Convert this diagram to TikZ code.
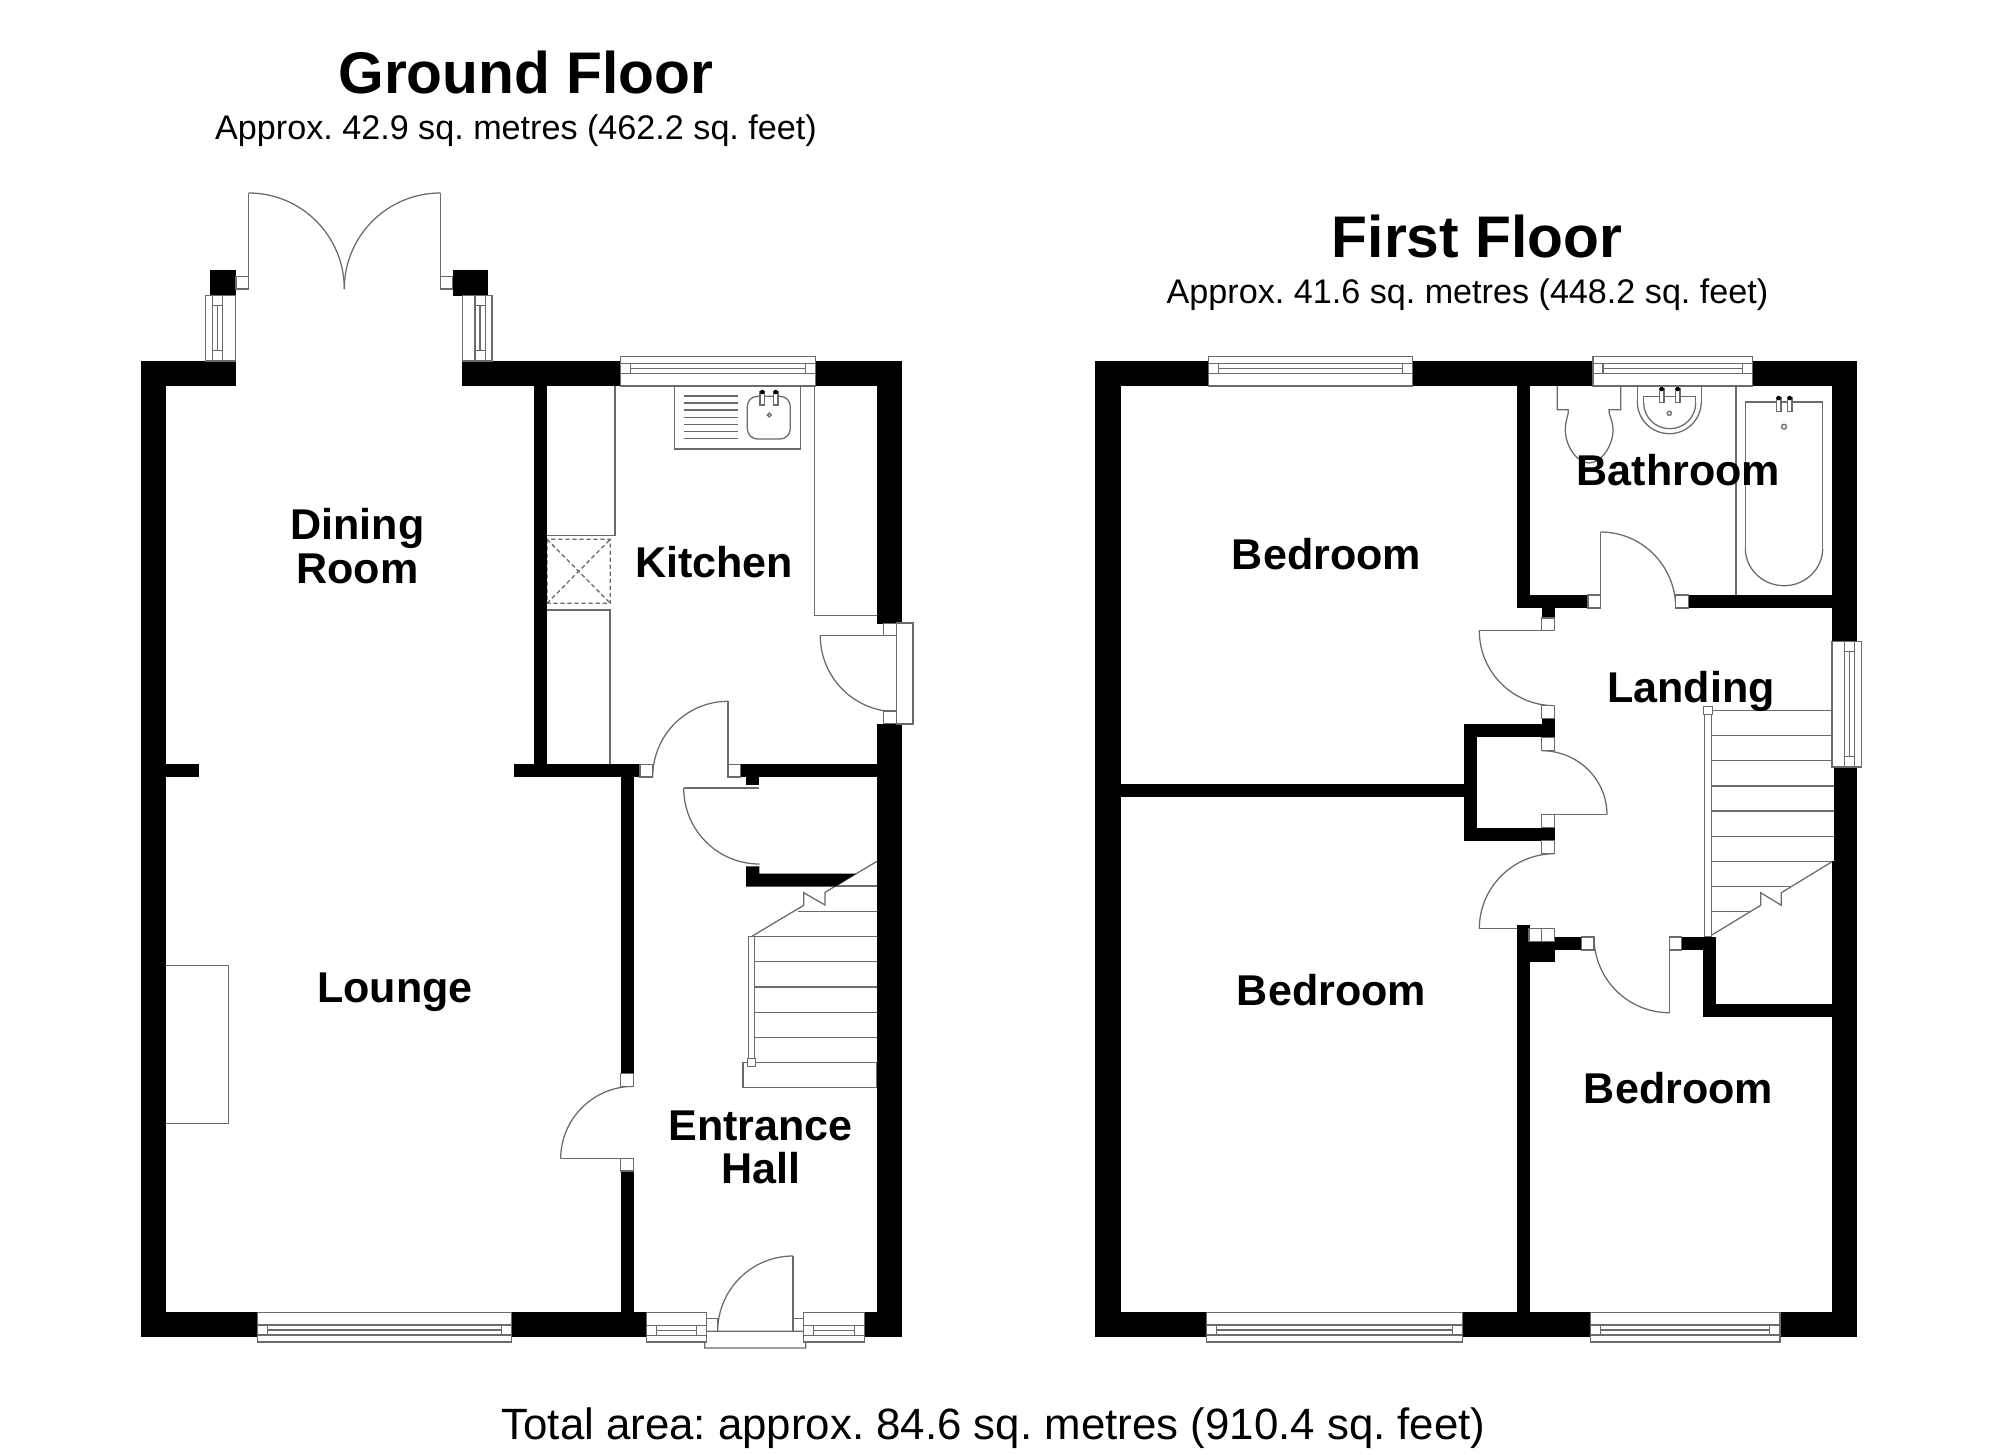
\documentclass[tikz,border=0pt]{standalone}
\usepackage{fontspec}
\setmainfont{Liberation Sans}
\usetikzlibrary{calc}
\tikzset{
  wall/.style={fill=black},
  thinline/.style={draw=planline,line width=0.36pt},
  stub/.style={thinline,fill=white},
  titletext/.style={font=\frenchspacing\bfseries\fontsize{16.7pt}{20pt}\selectfont,anchor=base,inner sep=0pt,text=black},
  subtext/.style={font=\frenchspacing\fontsize{9.71pt}{12pt}\selectfont,anchor=base,inner sep=0pt,text=black},
  roomtext/.style={font=\frenchspacing\bfseries\fontsize{12.25pt}{12.3pt}\selectfont,align=center,inner sep=0pt,text=black},
  totaltext/.style={font=\frenchspacing\fontsize{12.46pt}{15pt}\selectfont,anchor=base,inner sep=0pt,text=black}
}
\definecolor{planline}{gray}{0.42}
% quarter curve: start, end, corner where the tangents meet
\newcommand\qcurve[3]{\draw[thinline] (#1) .. controls ($(#1)!.5523!(#3)$) and ($(#2)!.5523!(#3)$) .. (#2);}
% horizontal window: x1 x2 ytop ybot  y1 y2 y3  xi1 xi2
\newcommand\hwin[9]{%
  \draw[stub] (#1,#3) rectangle (#2,#4);
  \draw[thinline] (#1,#5) -- (#2,#5) (#1,#7) -- (#2,#7) (#8,#6) -- (#9,#6) (#8,#5) -- (#8,#7) (#9,#5) -- (#9,#7);
}
% vertical window: x1 x2 ytop ybot  a b c  yi1 yi2
\newcommand\vwin[9]{%
  \draw[stub] (#1,#3) rectangle (#2,#4);
  \draw[thinline] (#5,#3) -- (#5,#4) (#7,#3) -- (#7,#4) (#6,#8) -- (#6,#9) (#5,#8) -- (#7,#8) (#5,#9) -- (#7,#9);
}
% tap: x ytop ybot
\newcommand\tapmark[3]{%
  \draw[stub] (#1,#2) rectangle ($(#1,#3)+(4.7,0)$);
  \fill[black] ($(#1,#2)+(2.35,0)$) circle[radius=0.65pt];
}
\begin{document}
\begin{tikzpicture}[x=0.01cm,y=-0.01cm]
\path[fill=white,use as bounding box] (0,0) rectangle (2000,1454);

% ---------- thin fittings (under the walls) ----------
% ground floor: french doors
\draw[thinline] (248.7,289) -- (248.7,193);
\qcurve{248.7,193}{344.3,289}{344.3,193}
\draw[thinline] (440.3,289) -- (440.3,193);
\qcurve{440.3,193}{344.3,289}{344.3,193}
% kitchen units
\draw[thinline] (615,386) -- (615,535.7) -- (547,535.7);
\draw[thinline] (547,610) -- (610,610) -- (610,764.3);
\draw[thinline] (814.3,386) -- (814.3,615.3) -- (877,615.3);
\draw[thinline] (674.3,386) -- (674.3,449) -- (800.7,449) -- (800.7,386);
\foreach \y in {396,403,410,417.3,424.3,431.7,438.7}
  \draw[thinline] (684.3,\y) -- (737.7,\y);
\draw[thinline,rounded corners=2.9pt] (747.3,396.3) rectangle (790.3,439);
\tapmark{760}{392}{405}
\tapmark{773.3}{392}{405}
\draw[thinline] (769.3,415) circle[radius=0.55pt];
\draw[thinline,dashed,dash pattern=on 1.2pt off 0.8pt] (547,539.3) rectangle (610.3,603.3) (547,539.3) -- (610.3,603.3) (547,603.3) -- (610.3,539.3);
% ground floor doors
\draw[thinline] (896.3,635.7) -- (820.3,635.7);
\qcurve{820.3,635.7}{896.3,711.7}{820.3,711.7}
\draw[thinline] (728,777) -- (728,701.3);
\qcurve{728,701.3}{652.7,777}{652.7,701.3}
\draw[thinline] (759.3,788) -- (683.7,788);
\qcurve{683.7,788}{759.3,864}{683.7,864}
\draw[thinline] (633.7,1158.7) -- (560.7,1158.7);
\qcurve{633.7,1086.3}{560.7,1158.7}{560.7,1086.3}
\draw[thinline] (793,1331.3) -- (793,1256);
\qcurve{793,1256}{717.7,1331.3}{717.7,1256}
% chimney breast
\draw[thinline] (165.7,965.7) -- (228.7,965.7) -- (228.7,1123.3) -- (165.7,1123.3);
% ground floor stairs
\foreach \y/\x in {886/835,911.3/798.3,936.7/754,961.7/754,987/754,1012.3/754,1037.3/754}
  \draw[thinline] (\x,\y) -- (877,\y);
\draw[stub] (743,1062.3) rectangle (877,1087.7);
\draw[thinline] (877,861.3) -- (825,892.3) -- (825,905) -- (803.7,892.7) -- (803.7,905.3) -- (752.3,936);
\draw[stub] (748.3,936.7) rectangle (754.3,1062.3);
\draw[stub] (747.3,1058.3) rectangle (755.7,1066.7);

% first floor: bathroom
\draw[thinline] (1557.3,386) -- (1557.3,409.7) -- (1568.3,409.7) .. controls (1569,414) and (1565.3,420) .. (1565.3,430) .. controls (1565.3,446) and (1577,463) .. (1589,463) .. controls (1601,463) and (1613,446) .. (1613,430) .. controls (1613,420) and (1608,414) .. (1609,409.7) -- (1620.7,409.7) -- (1620.7,386);
\draw[thinline] (1637.3,386) -- (1637.3,401.7);
\draw[thinline] (1701.3,386) -- (1701.3,401.7);
\qcurve{1637.3,401.7}{1669.3,433.7}{1637.3,433.7}
\qcurve{1701.3,401.7}{1669.3,433.7}{1701.3,433.7}
\draw[thinline] (1643.7,403) -- (1643.7,396.3) -- (1695.7,396.3) -- (1695.7,403);
\qcurve{1643.7,403}{1669.7,428.7}{1643.7,428.7}
\qcurve{1695.7,403}{1669.7,428.7}{1695.7,428.7}
\tapmark{1659.3}{389}{402.7}
\tapmark{1675.3}{389}{402.7}
\draw[thinline] (1669.3,413.3) circle[radius=0.6pt];
\draw[thinline] (1736,386) -- (1736,595);
\draw[thinline] (1745.3,548.3) -- (1745.3,402) -- (1822.7,402) -- (1822.7,548.3);
\qcurve{1745.3,548.3}{1784,585.7}{1745.3,585.7}
\qcurve{1822.7,548.3}{1784,585.7}{1822.7,585.7}
\tapmark{1776.3}{398}{411.7}
\tapmark{1787.3}{398}{411.7}
\draw[thinline] (1784,426.7) circle[radius=0.7pt];
% first floor doors
\draw[thinline] (1600.7,608) -- (1600.7,532);
\qcurve{1600.7,532}{1675.7,608}{1675.7,532}
\draw[thinline] (1554.7,630.7) -- (1479.3,630.7);
\qcurve{1479.3,630.7}{1554.7,705.7}{1479.3,705.7}
\draw[thinline] (1541.7,814.7) -- (1607,814.7);
\qcurve{1607,814.7}{1541.7,750.7}{1607,750.7}
\draw[thinline] (1554.7,928.7) -- (1479.3,928.7);
\qcurve{1479.3,928.7}{1554.7,853.7}{1479.3,853.7}
\draw[thinline] (1669.3,937) -- (1669.3,1012.7);
\qcurve{1669.3,1012.7}{1594,937}{1594,1012.7}
% first floor stairs
\foreach \y/\x in {710.3/1832,735.3/1832,760.3/1832,786/1834,811/1834,836.2/1834,861.3/1834,886.3/1790,911.7/1750}
  \draw[thinline] (1711.3,\y) -- (\x,\y);
\draw[thinline] (1711.3,935.3) -- (1760.7,905.3) -- (1760.7,892.7) -- (1781.3,905.3) -- (1781.3,892.7) -- (1832.7,861.3);
\draw[stub] (1704.7,710) rectangle (1711.3,937);
\draw[stub] (1703.7,706.3) rectangle (1712.3,714.7);

% ---------- walls ----------
\foreach \a/\b/\c/\d in {
  140.7/361/235.7/386.3, 140.7/361/165.7/1337.3, 140.7/1312.3/257.7/1337.3, 511.7/1312.3/646.3/1337.3,
  864.7/1312.3/902.3/1337.3, 462.3/361/620.3/386.3, 815.7/361/902.3/386.3, 877/361/902.3/623.7,
  877/723.7/902.3/1337.3, 534/386/547/764.3, 513.7/764.3/640/777, 740.3/764.3/877/777,
  620.7/777/633.7/1073.7, 620.7/1171/633.7/1312.3, 165.7/764/199/777.3, 746/777/759.3/785,
  209.7/270/236/295.3, 452.7/270/488.3/296,
  1095.3/361/1208.7/386, 1412.7/361/1593/386, 1752.3/361/1857/386, 1095.3/361/1121/1337.3,
  1095.3/1312.3/1206.5/1337.3, 1462.6/1312.3/1590.7/1337.3, 1780/1312.3/1857/1337.3,
  1831.7/361/1857/641.3, 1833.7/767/1857/861, 1832/861/1857/1337.3,
  1516.7/386/1529.7/608, 1516.7/595/1588/608, 1688.3/595/1831.7/608, 1541.7/608/1554.7/618,
  1541.7/718.7/1554.7/737.7, 1464/724/1554.7/737.3, 1464/724/1476.7/840.7, 1464/827.7/1554.7/840.7,
  1121/784/1464/797.3, 1516.7/924.7/1529.7/1312.3, 1516.7/941.3/1554.7/962.3, 1554.7/937/1581.3/950,
  1681.7/937/1716/950, 1703.3/937/1716/1017, 1703.3/1003.7/1832/1017}
  \fill[wall] (\a,\b) rectangle (\c,\d);
\fill[wall] (746,866.3) -- (759.3,866.3) -- (759.3,873.7) -- (856,873.7) -- (835.3,886.7) -- (746,886.7) -- cycle;

% ---------- door stubs ----------
\foreach \a/\b/\c/\d in {
  236/276.3/248.7/289, 440.3/276.3/452.7/289,
  883.7/623.7/896.3/635.7, 883.7/711/896.3/723.7,
  640/764.3/652.7/777, 728/764.3/740.3/777,
  620.7/1073.7/633.7/1086.3, 620.7/1158.7/633.7/1171,
  706.7/1318.7/717.7/1331.3, 793/1318.7/803.3/1331.3,
  1588/595/1600.7/608, 1675.7/595/1688.3/608,
  1541.7/618/1554.7/630.7, 1541.7/705.7/1554.7/718.7, 1541.7/737.7/1554.7/750.7,
  1541.7/814.7/1554.7/827.7, 1541.7/840.7/1554.7/853.7,
  1529/928.7/1541.7/941.3, 1541.7/928.7/1554.7/941.3,
  1581.3/937/1594/950, 1669.3/937/1681.7/950}
  \draw[stub] (\a,\b) rectangle (\c,\d);
\draw[stub] (896.3,623) rectangle (913,724);
\draw[stub] (706.7,1331.3) -- (704.7,1334) -- (704.7,1348) -- (805.7,1348) -- (805.7,1334) -- (803.3,1331.3) -- cycle;

% ---------- windows ----------
\vwin{205.7}{235.7}{295.3}{361}{212.3}{217.3}{222.7}{305.3}{350.3}
\vwin{462.3}{492}{295.3}{361}{475}{480}{485.3}{305.3}{350.3}
\hwin{620.3}{815.7}{356.3}{386}{363.3}{368.3}{373.3}{630.3}{805.7}
\hwin{257.7}{511.7}{1312.3}{1342}{1325}{1330}{1335}{267.7}{501.7}
\hwin{646.3}{706.7}{1312.3}{1342}{1325.7}{1330.7}{1335.7}{656.3}{696.7}
\hwin{803.3}{864.7}{1312.3}{1342}{1325.7}{1330.7}{1335.7}{813.3}{854.7}
\hwin{1208.7}{1412.7}{356.3}{386}{363.3}{368.3}{373.3}{1218.7}{1402.7}
\hwin{1593}{1752.3}{356.3}{386}{363.3}{368.3}{373.3}{1603}{1742.3}
\hwin{1206.5}{1462.6}{1312.3}{1342}{1325}{1330}{1335}{1216.7}{1452.4}
\hwin{1590.7}{1780}{1312.3}{1342}{1325}{1330}{1335}{1600.4}{1769.8}
\vwin{1832}{1861.7}{641.3}{767}{1844.7}{1849.7}{1854.7}{651.3}{756.7}

% ---------- text ----------
\node[titletext] (gftitle) at (526,93.5) {Ground Floor};
\node[subtext] (gfarea) at (516,139) {Approx. 42.9 sq. metres (462.2 sq. feet)};
\node[titletext] (fftitle) at (1477,257) {First Floor};
\node[subtext] (ffarea) at (1467.5,303) {Approx. 41.6 sq. metres (448.2 sq. feet)};
\node[roomtext] (dining) at (357.5,546) {Dining\\Room};
\node[roomtext] (kitchen) at (714,562.5) {Kitchen};
\node[roomtext] (lounge) at (395,992) {Lounge};
\node[roomtext] (hall) at (760.5,1147.5) {Entrance\\Hall};
\node[roomtext] (bed1) at (1326.5,553.6) {Bedroom};
\node[roomtext] (bed2) at (1331.5,990) {Bedroom};
\node[roomtext] (bed3) at (1678.5,1088.5) {Bedroom};
\node[roomtext] (bath) at (1678.3,470) {Bathroom};
\node[roomtext] (landing) at (1691,691.5) {Landing};
\node[totaltext] (total) at (993.5,1439) {Total area: approx. 84.6 sq. metres (910.4 sq. feet)};
\end{tikzpicture}
\end{document}
